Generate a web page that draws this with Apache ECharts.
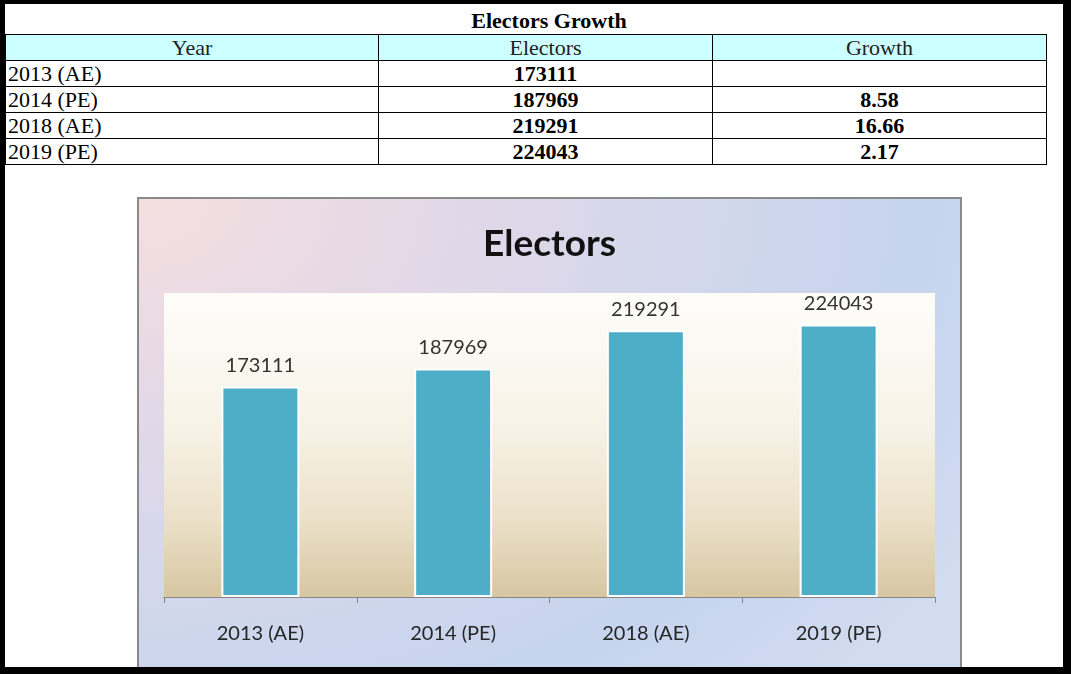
<!DOCTYPE html>
<html>
<head>
<meta charset="utf-8">
<script src="https://cdn.jsdelivr.net/npm/echarts@6/dist/echarts.min.js"></script>
<style>
  html, body { margin: 0; padding: 0; background: #000; width: 1071px; height: 674px; overflow: hidden; }
  #panel { position: absolute; left: 5px; top: 4px; width: 1058px; height: 663px; background: #fff; overflow: hidden; }
  #ttl { position: absolute; left: 0; width: 1088px; top: 4px; text-align: center; font: bold 22px "Liberation Serif", serif; color: #000; }
  table { position: absolute; left: 0px; top: 30px; border-collapse: collapse; font-family: "Liberation Serif", serif; font-size: 22px; color: #000; }
  td { border: 1px solid #000; height: 25px; padding: 0 2px; line-height: 24px; }
  tr.hd td { background: #ccffff; text-align: center; font-weight: normal; color: #222; }
  td.c1 { width: 368px; }
  td.c2 { width: 329px; text-align: center; font-weight: bold; }
  td.c3 { width: 329px; text-align: center; font-weight: bold; }
  #chartBox { position: absolute; left: 132px; top: 193px; width: 821px; height: 490px; border: 2px solid #8a8a8a;
    background: radial-gradient(ellipse 120% 140% at 0% 0%, #f4dfdf 0%, #e3d8e7 30%, #d0d7ec 60%, #c6d4ee 80%, #d2dcf0 100%); }
  #chart { width: 821px; height: 490px; }
</style>
</head>
<body>
<div id="panel">
  <div id="ttl">Electors Growth</div>
  <table id="tbl"></table>
  <div id="chartBox"><div id="chart"></div></div>
</div>
<script>
const tableTitle = "Electors Growth";
const headers = ["Year", "Electors", "Growth"];
const categories = ["2013 (AE)", "2014 (PE)", "2018 (AE)", "2019 (PE)"];
const electors = [173111, 187969, 219291, 224043];
const growth = ["", "8.58", "16.66", "2.17"];
const chartTitle = "Electors";

// table
const tbl = document.getElementById('tbl');
let html = '<tr class="hd"><td class="c1" style="text-align:center;font-weight:normal">' + headers[0] +
  '</td><td class="c2" style="font-weight:normal">' + headers[1] + '</td><td class="c3" style="font-weight:normal">' + headers[2] + '</td></tr>';
for (let i = 0; i < categories.length; i++) {
  html += '<tr><td class="c1">' + categories[i] + '</td><td class="c2">' + electors[i] + '</td><td class="c3">' + growth[i] + '</td></tr>';
}
tbl.innerHTML = html;
document.getElementById('ttl').textContent = tableTitle;

const chart = echarts.init(document.getElementById('chart'), null, { renderer: 'canvas' });
chart.setOption({
  animation: false,
  title: {
    text: chartTitle, left: 'center', top: 22,
    textStyle: { fontFamily: 'Lato', fontWeight: 'bold', fontSize: 37, color: '#111' }
  },
  grid: {
    left: 25, right: 25, top: 94, height: 304, show: true, borderWidth: 0,
    backgroundColor: new echarts.graphic.LinearGradient(0, 0, 0, 1, [
      { offset: 0, color: '#fefdfa' },
      { offset: 0.45, color: '#f7f2e6' },
      { offset: 0.75, color: '#ebe0c8' },
      { offset: 1, color: '#d6c6a2' }
    ])
  },
  xAxis: {
    type: 'category', data: categories,
    axisLine: { lineStyle: { color: '#868686', width: 1 } },
    axisTick: { show: true, length: 6, lineStyle: { color: '#868686' } },
    axisLabel: { margin: 27, fontFamily: 'Lato', fontSize: 20, color: '#262626' }
  },
  yAxis: {
    type: 'value', min: 0, max: 250000, interval: 50000,
    show: false, splitLine: { show: false }
  },
  series: [{
    type: 'bar', data: electors, barWidth: 78,
    itemStyle: { color: '#4eaec8', borderColor: '#ffffff', borderWidth: 2 },
    label: { show: true, position: 'top', distance: 11, fontFamily: 'Lato', fontSize: 20, color: '#333' }
  }]
});
</script>
</body>
</html>
